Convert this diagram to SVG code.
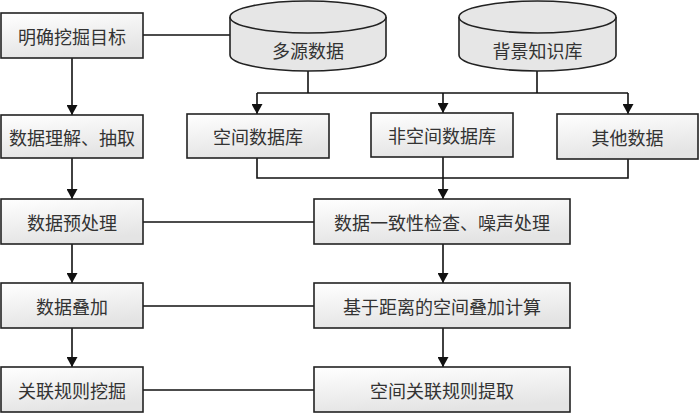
<svg xmlns="http://www.w3.org/2000/svg" width="700" height="413" viewBox="0 0 700 413">
<defs>
<linearGradient id="boxfill" x1="0" y1="0" x2="0.3" y2="1">
<stop offset="0" stop-color="#ffffff"/>
<stop offset="1" stop-color="#e4e4e4"/>
</linearGradient>
<marker id="arr" markerUnits="userSpaceOnUse" markerWidth="11" markerHeight="11" refX="10" refY="5.5" orient="auto">
<path d="M0,0 L10,5.5 L0,11 z" fill="#111"/>
</marker>
<style>
.box{fill:url(#boxfill);stroke:#222;stroke-width:1.6}
.cyl{fill:#e6e6e6;stroke:#222;stroke-width:1.6}
.t{font-family:"Noto Sans CJK SC","Noto Sans CJK JP",sans-serif;font-size:18px;fill:#333;text-anchor:middle;dominant-baseline:central}
.c{fill:none;stroke:#111;stroke-width:1.6}
.a{fill:none;stroke:#111;stroke-width:1.6;marker-end:url(#arr)}
</style>
</defs>
<g id="connectors">
<line class="c" x1="143" y1="35" x2="230" y2="35"/>
<line class="a" x1="72" y1="58" x2="72" y2="115"/>
<line class="a" x1="72" y1="158" x2="72" y2="199"/>
<line class="a" x1="72" y1="244" x2="72" y2="283"/>
<line class="a" x1="72" y1="328" x2="72" y2="367"/>
<polyline class="c" points="308,71 308,93"/>
<polyline class="c" points="537,71 537,93"/>
<line class="c" x1="257" y1="93" x2="628" y2="93"/>
<line class="a" x1="257" y1="93" x2="257" y2="114"/>
<line class="a" x1="443" y1="93" x2="443" y2="113"/>
<line class="a" x1="628" y1="93" x2="628" y2="114"/>
<polyline class="c" points="257,158 257,178 628,178 628,159"/>
<line class="a" x1="443" y1="157" x2="443" y2="199"/>
<line class="c" x1="143" y1="222" x2="314" y2="222"/>
<line class="c" x1="143" y1="306" x2="314" y2="306"/>
<line class="c" x1="143" y1="390" x2="314" y2="390"/>
<line class="a" x1="443" y1="244" x2="443" y2="283"/>
<line class="a" x1="443" y1="328" x2="443" y2="367"/>
</g>
<g id="n1"><rect class="box" x="1" y="13" width="142" height="45"/><text class="t" x="72" y="35.5">明确挖掘目标</text></g>
<g id="n2"><rect class="box" x="1" y="115" width="142" height="43"/><text class="t" x="72" y="136.5">数据理解、抽取</text></g>
<g id="n3"><rect class="box" x="1" y="199" width="142" height="45"/><text class="t" x="72" y="221.5">数据预处理</text></g>
<g id="n4"><rect class="box" x="1" y="283" width="142" height="45"/><text class="t" x="72" y="305.5">数据叠加</text></g>
<g id="n5"><rect class="box" x="1" y="367" width="142" height="45"/><text class="t" x="72" y="389.5">关联规则挖掘</text></g>
<g id="db1"><path class="cyl" d="M230,17 A78,16 0 0 1 386,17 L386,55 A78,16 0 0 1 230,55 Z"/><path class="cyl" d="M230,17 A78,16 0 0 0 386,17" fill="none"/><text class="t" x="308" y="50">多源数据</text></g>
<g id="db2"><path class="cyl" d="M459,17 A78.5,16 0 0 1 616,17 L616,55 A78.5,16 0 0 1 459,55 Z"/><path class="cyl" d="M459,17 A78.5,16 0 0 0 616,17" fill="none"/><text class="t" x="537.5" y="50">背景知识库</text></g>
<g id="m1"><rect class="box" x="187" y="114" width="142" height="44"/><text class="t" x="258" y="136">空间数据库</text></g>
<g id="m2"><rect class="box" x="371" y="113" width="142" height="44"/><text class="t" x="442" y="135">非空间数据库</text></g>
<g id="m3"><rect class="box" x="557" y="114" width="141" height="45"/><text class="t" x="627.5" y="136.5">其他数据</text></g>
<g id="r1"><rect class="box" x="314" y="199" width="256" height="45"/><text class="t" x="442" y="221.5">数据一致性检查、噪声处理</text></g>
<g id="r2"><rect class="box" x="314" y="283" width="256" height="45"/><text class="t" x="442" y="305.5">基于距离的空间叠加计算</text></g>
<g id="r3"><rect class="box" x="314" y="367" width="256" height="45"/><text class="t" x="442" y="389.5">空间关联规则提取</text></g>
</svg>
